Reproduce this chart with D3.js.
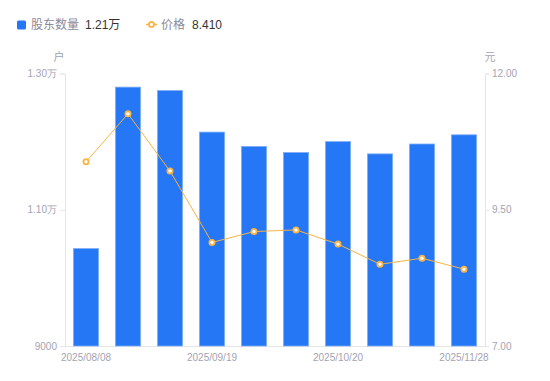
<!DOCTYPE html>
<html>
<head>
<meta charset="utf-8">
<script src="https://cdn.jsdelivr.net/npm/d3@7"></script>
<style>
	body { margin: 0; background: #fff; }
	svg { font-family: "Liberation Sans", Arial, "Noto Sans CJK SC", sans-serif; }
</style>
</head>
<body>
<div id="chart"></div>
<script>
// Chart data
const dates = ["2025/08/08", "2025/08/22", "2025/08/29", "2025/09/19", "2025/09/30",
	"2025/10/10", "2025/10/20", "2025/10/31", "2025/11/14", "2025/11/28"];
const holders = [10430, 12800, 12750, 12140, 11930, 11840, 12000, 11820, 11965, 12100];
const prices = [10.38, 11.26, 10.21, 8.90, 9.10, 9.13, 8.87, 8.50, 8.61, 8.41];
const leftTicks = [9000, 11000, 13000];
const rightTicks = [7, 9.5, 12];
const axisDates = dates.filter((d, i) => i % 3 === 0);

const width = 550, height = 381;
const margin = { top: 73.5, right: 65, bottom: 35, left: 65 };

const barColor = "#2677f5";
const lineColor = "#f9b443";
const tickColor = "#a3a3b3";
const axisColor = "#e6e6e6";

const svg = d3.select("#chart").append("svg")
	.attr("width", width)
	.attr("height", height);

const xScale = d3.scaleBand()
	.domain(dates)
	.range([margin.left, width - margin.right])
	.paddingInner(0.4)
	.paddingOuter(0.2);

const yLeft = d3.scaleLinear().domain([9000, 13000]).range([height - margin.bottom, margin.top]);
const yRight = d3.scaleLinear().domain([7, 12]).range([height - margin.bottom, margin.top]);

const fmtLeft = (v) => v >= 10000 ? (v / 10000).toFixed(2) + "万" : String(v);

// left axis
const gl = svg.append("g")
	.attr("transform", `translate(${margin.left},0)`)
	.call(d3.axisLeft(yLeft).tickValues(leftTicks).tickFormat(fmtLeft).tickSize(5).tickPadding(3));
gl.select(".domain").attr("stroke", axisColor);
gl.selectAll(".tick line").attr("stroke", axisColor);
gl.selectAll(".tick text").attr("fill", tickColor).attr("font-size", 10).attr("font-family", null);

// right axis
const gr = svg.append("g")
	.attr("transform", `translate(${width - margin.right},0)`)
	.call(d3.axisRight(yRight).tickValues(rightTicks).tickFormat(d3.format(".2f")).tickSize(4).tickPadding(3));
gr.select(".domain").attr("stroke", axisColor);
gr.selectAll(".tick line").attr("stroke", axisColor);
gr.selectAll(".tick text").attr("fill", tickColor).attr("font-size", 10).attr("font-family", null);

// bottom axis with date labels
const gx = svg.append("g")
	.attr("transform", `translate(0,${height - margin.bottom + 0.5})`)
	.call(d3.axisBottom(xScale).tickValues(axisDates).tickSize(0).tickPadding(7));
gx.select(".domain").attr("stroke", axisColor).attr("d", `M${margin.left},0H${width - margin.right}`);
gx.selectAll(".tick text").attr("fill", tickColor).attr("font-size", 10).attr("font-family", null);

// unit labels
svg.append("text")
	.attr("x", 59).attr("y", 61)
	.attr("text-anchor", "middle")
	.attr("font-size", 11)
	.attr("fill", tickColor)
	.text("户");
svg.append("text")
	.attr("x", 490).attr("y", 61)
	.attr("text-anchor", "middle")
	.attr("font-size", 11)
	.attr("fill", tickColor)
	.text("元");

// bars
svg.append("g")
	.selectAll("rect")
	.data(holders)
	.enter()
	.append("rect")
	.attr("x", (d, i) => xScale(dates[i]))
	.attr("width", xScale.bandwidth())
	.attr("y", (d) => yLeft(d))
	.attr("height", (d) => yLeft(9000) - yLeft(d))
	.attr("fill", barColor)
	.attr("stroke", "#7eaef8")
	.attr("stroke-width", 0.8);

// price line
const cx = (i) => xScale(dates[i]) + xScale.bandwidth() / 2;
const line = d3.line()
	.x((d, i) => cx(i))
	.y((d) => yRight(d));

svg.append("path")
	.datum(prices)
	.attr("d", line)
	.attr("fill", "none")
	.attr("stroke", lineColor)
	.attr("stroke-width", 1);

svg.append("g")
	.selectAll("circle")
	.data(prices)
	.enter()
	.append("circle")
	.attr("cx", (d, i) => cx(i))
	.attr("cy", (d) => yRight(d))
	.attr("r", 2.6)
	.attr("fill", "#fff")
	.attr("stroke", lineColor)
	.attr("stroke-width", 1.8);

// legend
const legend = svg.append("g").attr("font-size", 12);
legend.append("rect")
	.attr("x", 17).attr("y", 20.5)
	.attr("width", 9).attr("height", 9)
	.attr("rx", 1.5)
	.attr("fill", barColor);
legend.append("text")
	.attr("x", 31).attr("y", 29)
	.attr("fill", "#8a8a99")
	.text("股东数量");
legend.append("text")
	.attr("x", 85).attr("y", 29)
	.attr("fill", "#333")
	.text(fmtLeft(holders[holders.length - 1]));

legend.append("line")
	.attr("x1", 146).attr("x2", 157)
	.attr("y1", 24.5).attr("y2", 24.5)
	.attr("stroke", lineColor)
	.attr("stroke-width", 1.5);
legend.append("circle")
	.attr("cx", 151.5).attr("cy", 24.5)
	.attr("r", 2.6)
	.attr("fill", "#fff")
	.attr("stroke", lineColor)
	.attr("stroke-width", 1.8);
legend.append("text")
	.attr("x", 161).attr("y", 29)
	.attr("fill", "#8a8a99")
	.text("价格");
legend.append("text")
	.attr("x", 192).attr("y", 29)
	.attr("fill", "#333")
	.text(d3.format(".3f")(prices[prices.length - 1]));
</script>
</body>
</html>
